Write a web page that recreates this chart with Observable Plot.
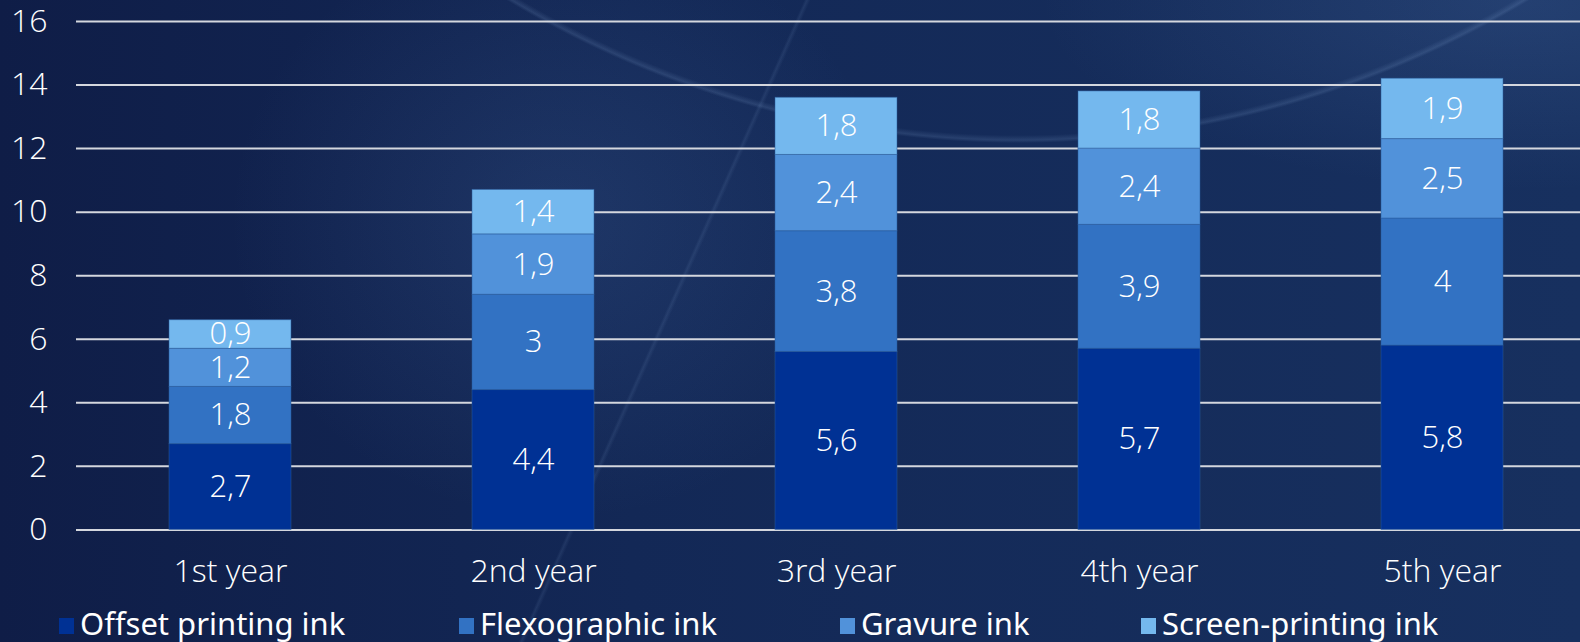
<!DOCTYPE html>
<html>
<head>
<meta charset="utf-8">
<script src="https://cdn.jsdelivr.net/npm/d3@7"></script>
<script src="https://cdn.jsdelivr.net/npm/@observablehq/plot@0.6"></script>
<style>
html, body { margin: 0; padding: 0; }
body {
  width: 1580px; height: 642px; overflow: hidden; position: relative;
  background:
    linear-gradient(114deg, rgba(150,185,230,0) 43.1%, rgba(150,185,230,0.10) 43.25%, rgba(150,185,230,0) 43.45%),
    radial-gradient(circle 988px at 1018px -845px, rgba(150,185,230,0) 99.2%, rgba(150,185,230,0.15) 99.7%, rgba(150,185,230,0) 100%),
    radial-gradient(ellipse 480px 190px at 1520px 0px, rgba(90,130,190,0.2), rgba(90,130,190,0) 100%),
    radial-gradient(ellipse 330px 300px at 560px 220px, rgba(90,130,190,0.17), rgba(90,130,190,0) 100%),
    linear-gradient(90deg, #0f1d47 0%, #132856 40%, #17305f 100%);
}
#chart { position: absolute; left: 0; top: 0; }
#legend { position: absolute; left: 0; top: 608px; width: 1580px; height: 34px;
  font-family: "Noto Sans", sans-serif; font-size: 31px; line-height: 31px; color: #ffffff; }
.item { position: absolute; top: 0; display: flex; align-items: center; white-space: nowrap; }
.sw { width: 15px; height: 16px; margin-right: 6px; margin-top: 5px; }
</style>
</head>
<body>
<div id="chart"></div>
<div id="legend"></div>
<script>
// ---- data ----
const years = ["1st year", "2nd year", "3rd year", "4th year", "5th year"];
const seriesNames = ["Offset printing ink", "Flexographic ink", "Gravure ink", "Screen-printing ink"];
const offsetInk = [2.7, 4.4, 5.6, 5.7, 5.8];
const flexoInk = [1.8, 3.0, 3.8, 3.9, 4.0];
const gravureInk = [1.2, 1.9, 2.4, 2.4, 2.5];
const screenInk = [0.9, 1.4, 1.8, 1.8, 1.9];
const seriesColors = ["#003194", "#3272c3", "#5192da", "#74b8ee"];
const yTicks = [0, 2, 4, 6, 8, 10, 12, 14, 16];

const seriesValues = [offsetInk, flexoInk, gravureInk, screenInk];
const table = [];
years.forEach((yr, i) => {
  seriesNames.forEach((s, j) => table.push({year: yr, series: s, value: seriesValues[j][i]}));
});

const fmt = v => String(v).replace(".", ",");
const fontMain = "'Open Sans', sans-serif";

const chart = Plot.plot({
  width: 1580,
  height: 600,
  marginTop: 21,
  marginBottom: 70.6,
  marginLeft: 76,
  marginRight: 0,
  style: { background: "transparent", color: "#ffffff", fontFamily: fontMain, overflow: "visible" },
  x: { domain: years, paddingInner: 0.598, paddingOuter: 0.2765, align: 0.544, label: null },
  y: { domain: [0, 16], label: null },
  color: { domain: seriesNames, range: seriesColors },
  marks: [
    Plot.ruleY(yTicks, { stroke: "#d4d7de", strokeWidth: 2 }),
    Plot.barY(table, Plot.stackY({ x: "year", y: "value", fill: "series", stroke: "#2a5b9e", strokeWidth: 1, strokeOpacity: 0.5 })),
    Plot.text(table, Plot.stackY({ x: "year", y: "value", text: d => fmt(d.value), fill: "#ffffff", fontSize: 31, fontWeight: 300, fontFamily: fontMain })),
    Plot.axisY({ ticks: yTicks, tickSize: 0, tickPadding: 29, fontSize: 32, fontWeight: 300, fill: "#ffffff", tickFormat: d => String(d), label: null }),
    Plot.axisX({ tickSize: 0, tickPadding: 29, fontSize: 32, fontWeight: 300, fill: "#ffffff", label: null })
  ]
});
document.getElementById("chart").appendChild(chart);

// legend
const legendLeft = [59, 459, 840, 1141];
const legend = document.getElementById("legend");
seriesNames.forEach((s, i) => {
  const it = document.createElement("div");
  it.className = "item";
  it.style.left = legendLeft[i] + "px";
  const sw = document.createElement("span");
  sw.className = "sw";
  sw.style.background = seriesColors[i];
  const tx = document.createElement("span");
  tx.textContent = s;
  it.appendChild(sw); it.appendChild(tx);
  legend.appendChild(it);
});
</script>
</body>
</html>
